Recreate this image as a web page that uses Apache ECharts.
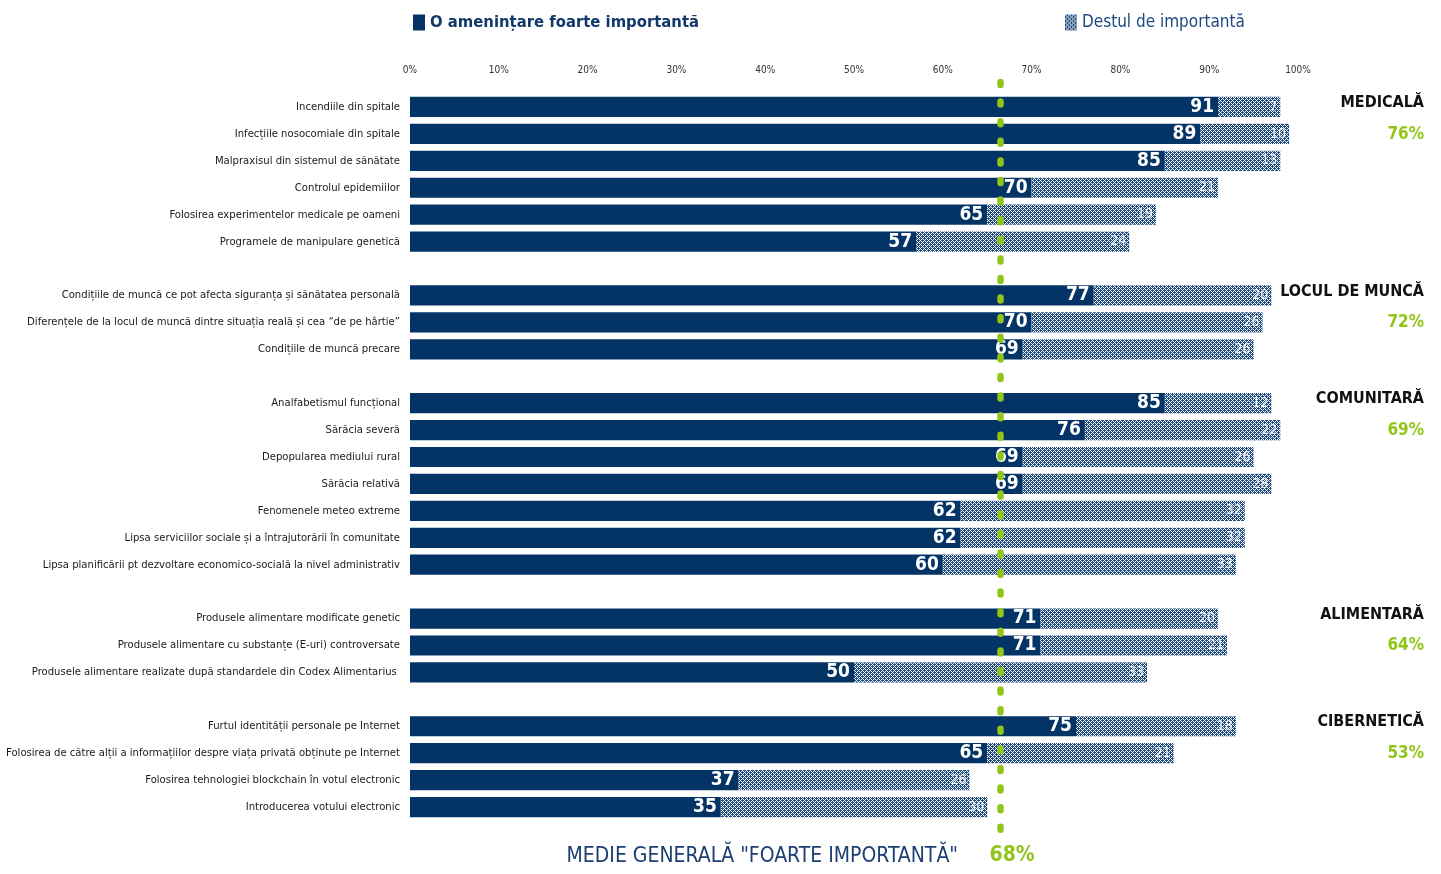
<!DOCTYPE html>
<html>
<head>
<meta charset="utf-8">
<script src="https://cdn.jsdelivr.net/npm/echarts@6/dist/echarts.min.js"></script>
<style>
  html, body { margin: 0; padding: 0; background: #fff; }
  #chart { width: 1441px; height: 874px; }
</style>
</head>
<body>
<div id="chart"></div>
<script>
// date din grafic
const groupNames = ['MEDICALĂ', 'LOCUL DE MUNCĂ', 'COMUNITARĂ', 'ALIMENTARĂ', 'CIBERNETICĂ'];
const groupPcts = ['76%', '72%', '69%', '64%', '53%'];

const medicalItems = ['Incendiile din spitale', 'Infecțiile nosocomiale din spitale', 'Malpraxisul din sistemul de sănătate', 'Controlul epidemiilor', 'Folosirea experimentelor medicale pe oameni', 'Programele de manipulare genetică'];
const medicalFoarte = [91, 89, 85, 70, 65, 57];
const medicalDestul = [7, 10, 13, 21, 19, 24];

const muncaItems = ['Condițiile de muncă ce pot afecta siguranța și sănătatea personală', 'Diferențele de la locul de muncă dintre situația reală și cea “de pe hârtie”', 'Condițiile de muncă precare'];
const muncaFoarte = [77, 70, 69];
const muncaDestul = [20, 26, 26];

const comunitarItems = ['Analfabetismul funcțional', 'Sărăcia severă', 'Depopularea mediului rural', 'Sărăcia relativă', 'Fenomenele meteo extreme', 'Lipsa serviciilor sociale și a întrajutorării în comunitate', 'Lipsa planificării pt dezvoltare economico-socială la nivel administrativ'];
const comunitarFoarte = [85, 76, 69, 69, 62, 62, 60];
const comunitarDestul = [12, 22, 26, 28, 32, 32, 33];

const alimentarItems = ['Produsele alimentare modificate genetic', 'Produsele alimentare cu substanțe (E-uri) controversate', 'Produsele alimentare realizate după standardele din Codex Alimentarius '];
const alimentarFoarte = [71, 71, 50];
const alimentarDestul = [20, 21, 33];

const ciberItems = ['Furtul identității personale pe Internet', 'Folosirea de către alții a informațiilor despre viața privată obținute pe Internet', 'Folosirea tehnologiei blockchain în votul electronic', 'Introducerea votului electronic'];
const ciberFoarte = [75, 65, 37, 35];
const ciberDestul = [18, 21, 26, 30];

const avgLabel = 'MEDIE GENERALĂ "FOARTE IMPORTANTĂ"';
const avgPct = '68%';
const avgLinePos = 66.5; // pozitia liniei punctate pe axa

// construim categoriile cu rand gol intre grupuri
const groups = [
  [medicalItems, medicalFoarte, medicalDestul],
  [muncaItems, muncaFoarte, muncaDestul],
  [comunitarItems, comunitarFoarte, comunitarDestul],
  [alimentarItems, alimentarFoarte, alimentarDestul],
  [ciberItems, ciberFoarte, ciberDestul]
];
const categories = [], foarte = [], destul = [], groupFirst = [];
groups.forEach((g, gi) => {
  if (gi > 0) {
    categories.push(' '.repeat(gi));
    foarte.push('-');
    destul.push('-');
  }
  groupFirst.push(categories.length);
  g[0].forEach((name, i) => {
    categories.push(name);
    foarte.push(g[1][i]);
    destul.push(g[2][i]);
  });
});

const FONT = "'DejaVu Sans Condensed', 'Liberation Sans Narrow', 'Open Sans', sans-serif";
const NAVY = '#043466';
const GREEN = '#92c51a';

// textura pentru "Destul de importanta"
const tile = document.createElement('canvas');
tile.width = 4; tile.height = 4;
const tctx = tile.getContext('2d');
tctx.fillStyle = '#1f4a7e';
tctx.fillRect(0, 0, 4, 4);
tctx.fillStyle = '#f4f7fb';
for (let x = 0; x < 4; x++) {
  for (let y = 0; y < 4; y++) {
    if ((x + y) % 4 === 0 || (x - y + 4) % 4 === 0) tctx.fillRect(x, y, 1, 1);
  }
}

let dom = document.getElementById('chart');
let myChart = echarts.init(dom, null, { renderer: 'canvas' });

let option = {
  animation: false,
  textStyle: { fontFamily: FONT },
  legend: [
    {
      data: ['O amenințare foarte importantă'],
      left: 408, top: 9,
      itemWidth: 12, itemHeight: 16, itemGap: 4,
      icon: 'rect',
      textStyle: { fontFamily: FONT, fontSize: 16.5, fontWeight: 'bold', color: '#12396a' }
    },
    {
      data: ['Destul de importantă'],
      left: 1060, top: 9,
      itemWidth: 12, itemHeight: 16, itemGap: 4,
      icon: 'rect',
      textStyle: { fontFamily: FONT, fontSize: 17, color: '#1b4a82' }
    }
  ],
  grid: {
    left: 410, right: 143, top: 93.5, bottom: 53.5,
    containLabel: false, outerBoundsMode: 'none'
  },
  xAxis: {
    type: 'value',
    position: 'top',
    min: 0, max: 100, interval: 10,
    axisLine: { show: false },
    axisTick: { show: false },
    splitLine: { show: false },
    axisLabel: {
      formatter: '{value}%', fontSize: 10, color: '#333', margin: 18, fontFamily: FONT
    }
  },
  yAxis: {
    type: 'category',
    inverse: true,
    data: categories,
    axisLine: { show: false },
    axisTick: { show: false },
    axisLabel: { fontSize: 11.2, color: '#1a1a1a', margin: 10, fontFamily: FONT }
  },
  series: [
    {
      name: 'O amenințare foarte importantă',
      type: 'bar',
      stack: 'total',
      data: foarte,
      barWidth: '75%',
      itemStyle: { color: NAVY },
      label: {
        show: true, position: 'insideRight', distance: 4,
        color: '#fff', fontSize: 19, fontWeight: 'bold', fontFamily: FONT
      }
    },
    {
      name: 'Destul de importantă',
      type: 'bar',
      stack: 'total',
      data: destul,
      barWidth: '75%',
      itemStyle: { color: { image: tile, repeat: 'repeat' } },
      label: {
        show: true, position: 'insideRight', distance: 3,
        color: '#f2f5f9', fontSize: 14, fontFamily: FONT
      }
    }
  ]
};
myChart.setOption(option);

// linia punctata si textele din dreapta
const lineX = myChart.convertToPixel({ xAxisIndex: 0 }, avgLinePos);
const graphics = [];
graphics.push({
  type: 'line', z: 100,
  shape: { x1: lineX, y1: 82, x2: lineX, y2: 840 },
  style: { stroke: GREEN, lineWidth: 6.5, lineDash: [3, 16.6], lineCap: 'round' }
});
groupNames.forEach((name, i) => {
  const y = myChart.convertToPixel({ yAxisIndex: 0 }, categories[groupFirst[i]]);
  graphics.push({
    type: 'text', right: 17, top: y - 12,
    style: { text: name, fontFamily: FONT, fontSize: 16, fontWeight: 'bold', fill: '#111' }
  });
  graphics.push({
    type: 'text', right: 17, top: y + 19,
    style: { text: groupPcts[i], fontFamily: FONT, fontSize: 17, fontWeight: 'bold', fill: GREEN }
  });
});
graphics.push({
  type: 'text', right: 1441 - 958, top: 846,
  style: { text: avgLabel, fontFamily: FONT, fontSize: 21, fill: '#1b3f72' }
});
graphics.push({
  type: 'text', left: lineX - 11, top: 845,
  style: { text: avgPct, fontFamily: FONT, fontSize: 21, fontWeight: 'bold', fill: GREEN }
});
myChart.setOption({ graphic: graphics });

window.addEventListener('resize', myChart.resize);
</script>
</body>
</html>
